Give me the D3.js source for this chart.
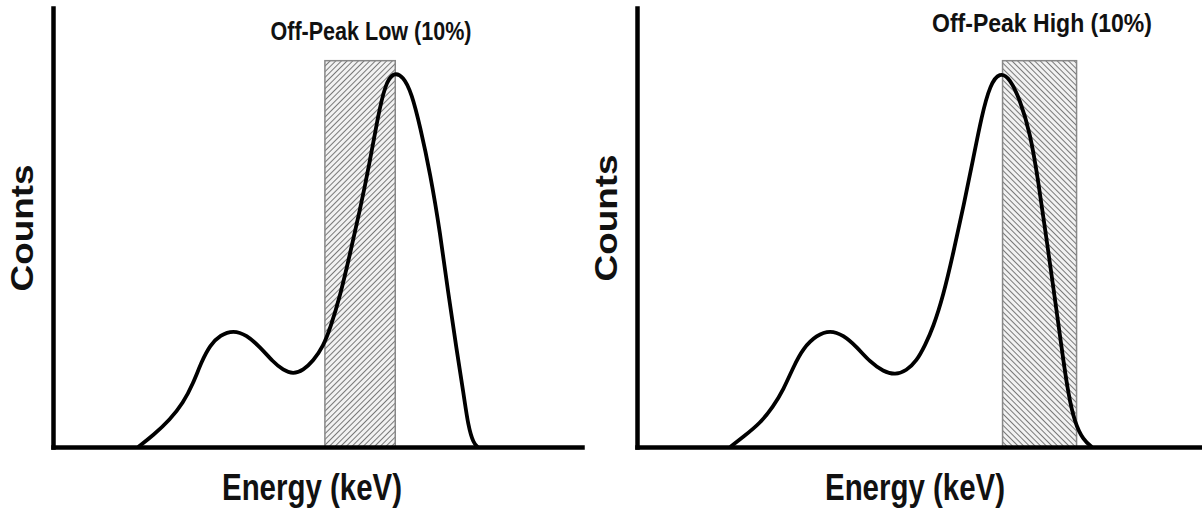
<!DOCTYPE html>
<html>
<head>
<meta charset="utf-8">
<script src="https://cdn.jsdelivr.net/npm/d3@7"></script>
<style>
body { margin: 0; background: #fff; }
text { font-family: "Liberation Sans Narrow", "Liberation Sans", Arial, sans-serif; font-weight: bold; fill: #111; }
</style>
</head>
<body>
<script>
var WIDTH = 1202;
var HEIGHT = 511;

// energy in arbitrary units (0-100), counts in arbitrary units (0-100)
var lowEnergy = [16.1, 19.0, 22.1, 24.6, 26.5, 28.1, 29.7, 31.6, 34.1, 36.6, 39.1, 41.6, 43.5, 45.4, 47.3, 49.2, 51.1, 52.4,
    54.3, 56.1, 58.0, 59.9, 61.4, 62.8, 64.3, 66.2, 67.8, 69.4, 71.3, 73.2, 74.7, 76.3, 77.6, 78.5, 79.5, 80.3];
var lowCounts = [0, 2.7, 6.2, 10.0, 14.5, 19.5, 23.2, 25.5, 26.6, 25.5, 22.8, 19.4, 17.5, 16.6, 17.5, 19.6, 23.0, 27.0,
    34.5, 43.8, 53.8, 65.0, 75.2, 82.6, 85.4, 84.5, 80.6, 73.0, 62.4, 48.7, 35.1, 22.1, 12.3, 4.6, 0.8, 0];

var highEnergy = [16.5, 18.8, 21.8, 24.1, 25.9, 27.7, 29.4, 31.8, 34.2, 36.5, 38.9, 41.2, 43.6, 45.7, 47.7, 49.5, 51.0, 52.4,
    54.2, 56.0, 57.8, 59.5, 61.0, 62.5, 64.2, 66.0, 67.8, 69.6, 71.0, 72.5, 74.0, 75.2, 76.3, 77.5, 79.0, 80.5];
var highCounts = [0, 2.3, 5.4, 9.2, 13.0, 18.3, 22.5, 25.5, 26.6, 25.5, 22.8, 19.4, 17.2, 16.4, 17.4, 19.6, 23.2, 27.2,
    34.4, 44.3, 54.9, 65.6, 75.4, 82.6, 85.4, 84.0, 79.0, 71.5, 60.8, 47.2, 33.5, 22.1, 12.2, 5.4, 1.6, 0];

var lowWindow = [51.4, 64.7];
var highWindow = [64.7, 77.8];
var windowTop = 88;

var titles = ['Off-Peak Low (10%)', 'Off-Peak High (10%)'];
var xLabel = 'Energy (keV)';
var yLabel = 'Counts';

var panels = [
    {energy: lowEnergy, counts: lowCounts, window: lowWindow, title: titles[0], hatch: 45,
        x0: 53, x1: 582, titleX: 371, titleY: 40, titleW: 201, labelX: 312, countsX: 33, countsY: 228},
    {energy: highEnergy, counts: highCounts, window: highWindow, title: titles[1], hatch: -45,
        x0: 637, x1: 1202, titleX: 1042, titleY: 32, titleW: 220, labelX: 915, countsX: 617, countsY: 218}
];

var svg = d3.select('body').append('svg')
    .attr('width', WIDTH)
    .attr('height', HEIGHT);

var defs = svg.append('defs');
panels.forEach(function(p, i){
    var pat = defs.append('pattern')
        .attr('id', 'hatch' + i)
        .attr('patternUnits', 'userSpaceOnUse')
        .attr('width', 4)
        .attr('height', 4)
        .attr('patternTransform', 'rotate(' + p.hatch + ')');
    pat.append('rect').attr('width', 4).attr('height', 4).attr('fill', '#f2f2f2');
    pat.append('line')
        .attr('x1', 0).attr('y1', 0).attr('x2', 0).attr('y2', 4)
        .attr('stroke', '#5a5a5a')
        .attr('stroke-width', 1.6);
});

var yScale = d3.scaleLinear().domain([0, 100]).range([447, 8]);

panels.forEach(function(p, i){
    var xScale = d3.scaleLinear().domain([0, 100]).range([p.x0, p.x1]);
    var g = svg.append('g');

    // window rectangle
    g.append('rect')
        .attr('x', xScale(p.window[0]))
        .attr('y', yScale(windowTop))
        .attr('width', xScale(p.window[1]) - xScale(p.window[0]))
        .attr('height', yScale(0) - yScale(windowTop))
        .attr('fill', 'url(#hatch' + i + ')')
        .attr('stroke', '#888')
        .attr('stroke-width', 1.5);

    // spectrum
    var points = p.energy.map(function(e, j){ return [e, p.counts[j]]; });
    var line = d3.line()
        .x(function(d){ return xScale(d[0]); })
        .y(function(d){ return yScale(d[1]); })
        .curve(d3.curveBasis);
    g.append('path')
        .datum(points)
        .attr('d', line)
        .attr('fill', 'none')
        .attr('stroke', '#000')
        .attr('stroke-width', 3.8)
        .attr('stroke-linejoin', 'round');

    // axes, no ticks
    var leftAxis = d3.axisLeft(yScale).tickValues([]).tickSizeOuter(0);
    g.append('g')
        .attr('transform', 'translate(' + p.x0 + ',0)')
        .call(leftAxis);
    var bottomAxis = d3.axisBottom(xScale).tickValues([]).tickSizeOuter(0);
    g.append('g')
        .attr('transform', 'translate(0,' + yScale(0) + ')')
        .call(bottomAxis);
    g.selectAll('.domain')
        .attr('stroke', '#000')
        .attr('stroke-width', 4.5)
        .attr('stroke-linecap', 'square');

    // text
    g.append('text')
        .attr('x', p.titleX)
        .attr('y', p.titleY)
        .attr('text-anchor', 'middle')
        .attr('textLength', p.titleW)
        .attr('lengthAdjust', 'spacingAndGlyphs')
        .style('font-size', '25px')
        .text(p.title);
    g.append('text')
        .attr('x', p.labelX)
        .attr('y', 500)
        .attr('text-anchor', 'middle')
        .attr('textLength', 180)
        .attr('lengthAdjust', 'spacingAndGlyphs')
        .style('font-size', '36px')
        .text(xLabel);
    g.append('text')
        .attr('transform', 'translate(' + p.countsX + ',' + p.countsY + ') rotate(-90)')
        .attr('text-anchor', 'middle')
        .attr('textLength', 127)
        .attr('lengthAdjust', 'spacingAndGlyphs')
        .style('font-family', '"Liberation Sans", Arial, sans-serif')
        .style('font-size', '31px')
        .text(yLabel);
});
</script>
</body>
</html>
